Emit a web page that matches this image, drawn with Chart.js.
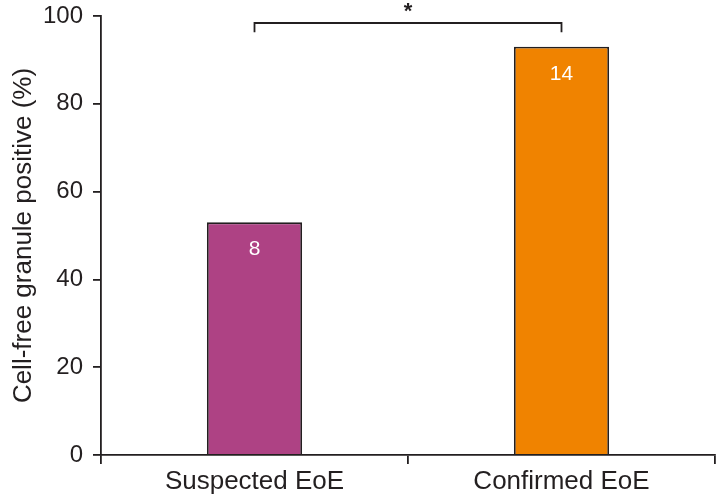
<!DOCTYPE html>
<html>
<head>
<meta charset="utf-8">
<script src="https://cdn.jsdelivr.net/npm/chart.js@4"></script>
<style>
  html, body { margin: 0; padding: 0; background: #fff; }
  #wrap { width: 717px; height: 501px; }
</style>
</head>
<body>
<div id="wrap"><canvas id="chart" width="717" height="501"></canvas></div>
<script>
// data
var groups = ["Suspected EoE", "Confirmed EoE"];
var positive = [53, 93];       // % cell-free granule positive
var counts = ["8", "14"];       // n written inside each bar
var barColors = ["#ae4284", "#f08300"];
var yTicks = [0, 20, 40, 60, 80, 100];
var sigMark = "*";              // significance between the two groups

var ink = "#231f20";
var font = "'Liberation Sans', Arial, Helvetica, sans-serif";

// white n labels inside the bars
var countLabels = {
  id: "countLabels",
  afterDatasetsDraw: function(chart) {
    var ctx = chart.ctx;
    var meta = chart.getDatasetMeta(0);
    ctx.save();
    ctx.fillStyle = "#ffffff";
    ctx.font = "21px " + font;
    ctx.textAlign = "center";
    ctx.textBaseline = "middle";
    meta.data.forEach(function(bar, i) {
      ctx.fillText(counts[i], bar.x, bar.y + 27);
    });
    ctx.restore();
  }
};

// bracket + asterisk above the bars
var sigBracket = {
  id: "sigBracket",
  afterDraw: function(chart) {
    var ctx = chart.ctx;
    var x = chart.scales.x, y = chart.scales.y;
    var x1 = x.getPixelForValue(0), x2 = x.getPixelForValue(1);
    var yTop = y.getPixelForValue(98.4), yLeg = y.getPixelForValue(96.3);
    ctx.save();
    ctx.strokeStyle = ink;
    ctx.lineWidth = 1.8;
    ctx.beginPath();
    ctx.moveTo(x1, yLeg);
    ctx.lineTo(x1, yTop);
    ctx.lineTo(x2, yTop);
    ctx.lineTo(x2, yLeg);
    ctx.stroke();
    ctx.fillStyle = ink;
    ctx.font = "bold 22px " + font;
    ctx.textAlign = "center";
    ctx.textBaseline = "middle";
    ctx.fillText(sigMark, (x1 + x2) / 2, yTop - 11);
    ctx.restore();
  }
};

new Chart(document.getElementById("chart"), {
  type: "bar",
  data: {
    labels: groups,
    datasets: [{
      data: positive,
      backgroundColor: barColors,
      borderColor: ink,
      borderWidth: 1.8,
      barPercentage: 0.31,
      categoryPercentage: 1.0
    }]
  },
  options: {
    responsive: false,
    animation: false,
    layout: { padding: { top: 16, right: 2, left: 0, bottom: 0 } },
    plugins: { legend: { display: false }, tooltip: { enabled: false } },
    scales: {
      x: {
        border: { color: ink, width: 1.8 },
        grid: { drawOnChartArea: false, drawTicks: true, tickLength: 9, color: ink, lineWidth: 1.8 },
        ticks: { color: ink, font: { family: font, size: 26 }, padding: 2 },
        afterFit: function(s) { s.height = 46; s.paddingLeft = 0; s.paddingRight = 0; }
      },
      y: {
        min: 0,
        max: 100,
        afterBuildTicks: function(s) { s.ticks = yTicks.map(function(v) { return { value: v }; }); },
        border: { color: ink, width: 1.8 },
        grid: { drawOnChartArea: false, drawTicks: true, tickLength: 8, color: ink, lineWidth: 1.8 },
        ticks: { color: ink, font: { family: font, size: 24 }, padding: 10 },
        title: {
          display: true,
          text: "Cell-free granule positive (%)",
          color: ink,
          font: { family: font, size: 26 },
          padding: { top: 8, bottom: 4 }
        },
        afterFit: function(s) { s.width = 101; s.paddingTop = 0; s.paddingBottom = 0; }
      }
    }
  },
  plugins: [countLabels, sigBracket]
});
</script>
</body>
</html>
